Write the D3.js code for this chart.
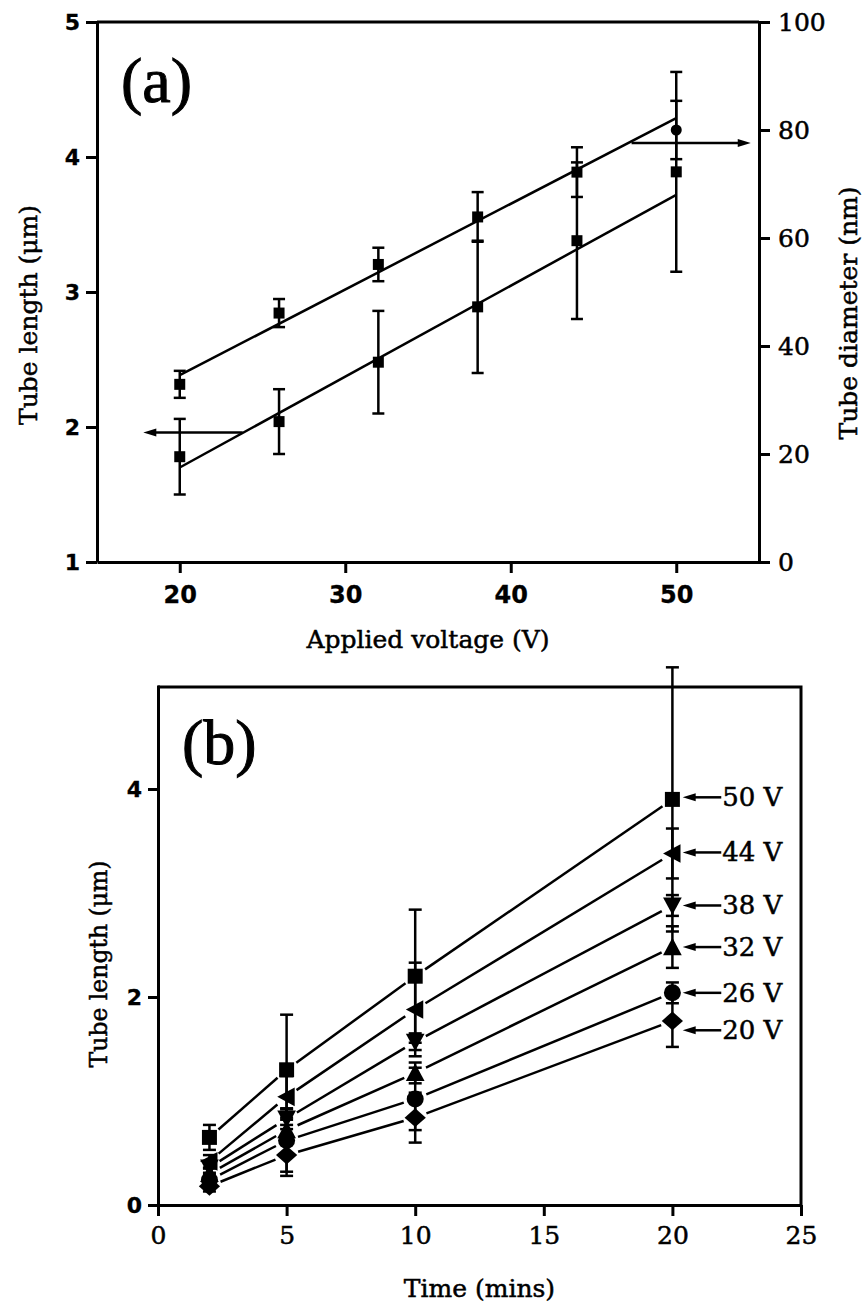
<!DOCTYPE html>
<html>
<head>
<meta charset="utf-8">
<script src="https://cdn.jsdelivr.net/npm/d3@7"></script>
<style>
  body { margin: 0; background: #fff; }
</style>
</head>
<body>
<div id="chart"></div>
<script>
// ---------- data, panel (a) ----------
var voltages = [20, 26, 32, 38, 44, 50];
var tubeLength = [1.78, 2.04, 2.48, 2.89, 3.38, 3.89];
var tubeLengthErr = [0.28, 0.24, 0.38, 0.49, 0.58, 0.74];
var tubeDiameter = [32.9, 46.1, 55.1, 63.9, 72.2, 80.0];
var tubeDiameterErr = [2.5, 2.6, 3.1, 4.6, 4.6, 5.4];
var diameterSymbols = ["square", "square", "square", "square", "square", "circle"];
// fitted lines, value at 20 V and at 50 V
var fitVoltages = [20, 50];
var lengthFit = [1.70, 3.72];
var diameterFit = [34.6, 82.2];
// axis pointers: [from V, to V, level]
var lengthPointer = [23.8, 17.8, 1.96];
var diameterPointer = [47.3, 54.5, 77.6];

// ---------- data, panel (b) ----------
var times = [2, 5, 10, 20];
var seriesNames = ["50 V", "44 V", "38 V", "32 V", "26 V", "20 V"];
var seriesSymbols = ["square", "triangleLeft", "triangleDown", "triangleUp", "circle", "diamond"];
var length50V = [0.65, 1.30, 2.20, 3.90];
var length44V = [0.42, 1.04, 1.88, 3.38];
var length38V = [0.36, 0.83, 1.57, 2.88];
var length32V = [0.30, 0.72, 1.27, 2.48];
var length26V = [0.24, 0.62, 1.02, 2.04];
var length20V = [0.18, 0.48, 0.84, 1.77];
var err50V = [0.12, 0.53, 0.64, 1.27];
var err44V = [0.06, 0.20, 0.45, 0.24];
var err38V = [0.05, 0.10, 0.08, 0.10];
var err32V = [0.05, 0.10, 0.10, 0.20];
var err26V = [0.05, 0.30, 0.30, 0.10];
var err20V = [0.05, 0.20, 0.24, 0.25];
// level of each series' label pointer
var labelLevels = [3.92, 3.39, 2.88, 2.48, 2.04, 1.68];
var labelPointer = [21.9, 20.4]; // from / to, in minutes

var lengthsB = [length50V, length44V, length38V, length32V, length26V, length20V];
var errorsB = [err50V, err44V, err38V, err32V, err26V, err20V];

// ---------- setup ----------
var svgWidth = 864;
var svgHeight = 1308;
var serif = "'DejaVu Serif', serif";
var sans = "'DejaVu Sans', sans-serif";

var svg = d3.select("#chart")
  .append("svg")
  .attr("width", svgWidth)
  .attr("height", svgHeight)
  .style("background", "#fff");

// marker shapes
function markerPath(type, r) {
  switch (type) {
    case "square":
      return `M${-r},${-r}H${r}V${r}H${-r}Z`;
    case "circle":
      return d3.symbol(d3.symbolCircle, Math.PI * r * r)();
    case "triangleUp":
      return `M0,${-r * 1.1}L${r * 1.1},${r * 0.95}L${-r * 1.1},${r * 0.95}Z`;
    case "triangleDown":
      return `M0,${r * 1.1}L${r * 1.1},${-r * 0.95}L${-r * 1.1},${-r * 0.95}Z`;
    case "triangleLeft":
      return `M${-r * 1.1},0L${r * 0.95},${-r * 1.1}L${r * 0.95},${r * 1.1}Z`;
    case "diamond":
      return `M0,${-r * 1.1}L${r * 1.25},0L0,${r * 1.1}L${-r * 1.25},0Z`;
  }
}

function errorBar(g, x, y0, y1, cap) {
  g.append("line").attr("x1", x).attr("x2", x).attr("y1", y0).attr("y2", y1);
  g.append("line").attr("x1", x - cap / 2).attr("x2", x + cap / 2).attr("y1", y0).attr("y2", y0);
  g.append("line").attr("x1", x - cap / 2).attr("x2", x + cap / 2).attr("y1", y1).attr("y2", y1);
}

// horizontal pointer with a small filled head at x2
function pointer(g, x1, x2, y) {
  var dir = x2 > x1 ? 1 : -1;
  g.append("line")
    .attr("x1", x1).attr("x2", x2 - dir * 8).attr("y1", y).attr("y2", y)
    .attr("stroke", "#000").attr("stroke-width", 2.5);
  g.append("path")
    .attr("d", `M${x2},${y}L${x2 - dir * 13},${y - 4}L${x2 - dir * 13},${y + 4}Z`)
    .attr("fill", "#000");
}

function styleAxis(axisG, font, size, weight) {
  axisG.select(".domain").attr("stroke-width", 3);
  axisG.selectAll(".tick line").attr("stroke-width", 3);
  axisG.selectAll(".tick text")
    .style("font-family", font)
    .style("font-size", size + "px")
    .style("font-weight", weight)
    .attr("fill", "#000")
    .attr("stroke", "#000")
    .attr("stroke-width", weight == "bold" ? 0.3 : 0.5);
}

// serif text, thickened a little like the scanned original
function serifText(g, size) {
  return g.append("text")
    .style("font-family", serif)
    .style("font-size", size + "px")
    .attr("fill", "#000")
    .attr("stroke", "#000")
    .attr("stroke-width", 0.5);
}

// =================== panel (a) ===================
var xA = d3.scaleLinear().domain([15, 55]).range([97, 759]);
var yLen = d3.scaleLinear().domain([1, 5]).range([562, 22]);
var yDia = d3.scaleLinear().domain([0, 100]).range([562, 22]);

var gA = svg.append("g");

// top border
gA.append("line")
  .attr("x1", xA.range()[0]).attr("x2", xA.range()[1])
  .attr("y1", yLen.range()[1]).attr("y2", yLen.range()[1])
  .attr("stroke", "#000").attr("stroke-width", 3);

var leftA = gA.append("g")
  .attr("transform", `translate(${xA.range()[0]},0)`)
  .call(d3.axisLeft(yLen).tickValues([1, 2, 3, 4, 5]).tickFormat(d3.format("d"))
    .tickSize(11).tickSizeOuter(0).tickPadding(6));
styleAxis(leftA, sans, 22, "bold");

var rightA = gA.append("g")
  .attr("transform", `translate(${xA.range()[1]},0)`)
  .call(d3.axisRight(yDia).tickValues([0, 20, 40, 60, 80, 100])
    .tickSize(11).tickSizeOuter(0).tickPadding(8));
styleAxis(rightA, serif, 25, "normal");

var bottomA = gA.append("g")
  .attr("transform", `translate(0,${yLen.range()[0]})`)
  .call(d3.axisBottom(xA).tickValues([20, 30, 40, 50])
    .tickSize(11).tickSizeOuter(0).tickPadding(13));
styleAxis(bottomA, sans, 24, "bold");

// error bars
var errA = gA.append("g").attr("stroke", "#000").attr("stroke-width", 2.5);
voltages.forEach(function(v, i) {
  errorBar(errA, xA(v), yLen(tubeLength[i] + tubeLengthErr[i]), yLen(tubeLength[i] - tubeLengthErr[i]), 12);
  errorBar(errA, xA(v), yDia(tubeDiameter[i] + tubeDiameterErr[i]), yDia(tubeDiameter[i] - tubeDiameterErr[i]), 12);
});

// fitted lines
var lenLine = d3.line().x((d, i) => xA(fitVoltages[i])).y(d => yLen(d));
var diaLine = d3.line().x((d, i) => xA(fitVoltages[i])).y(d => yDia(d));
gA.append("path").attr("d", lenLine(lengthFit))
  .attr("fill", "none").attr("stroke", "#000").attr("stroke-width", 2.5);
gA.append("path").attr("d", diaLine(diameterFit))
  .attr("fill", "none").attr("stroke", "#000").attr("stroke-width", 2.5);

// markers
gA.selectAll("path.lenMark")
  .data(tubeLength)
  .enter()
  .append("path")
  .attr("class", "lenMark")
  .attr("d", markerPath("square", 5.5))
  .attr("transform", (d, i) => `translate(${xA(voltages[i])},${yLen(d)})`)
  .attr("fill", "#000");

gA.selectAll("path.diaMark")
  .data(tubeDiameter)
  .enter()
  .append("path")
  .attr("class", "diaMark")
  .attr("d", (d, i) => markerPath(diameterSymbols[i], 5.5))
  .attr("transform", (d, i) => `translate(${xA(voltages[i])},${yDia(d)})`)
  .attr("fill", "#000");

// pointers to the axes
pointer(gA, xA(lengthPointer[0]), xA(lengthPointer[1]), yLen(lengthPointer[2]));
pointer(gA, xA(diameterPointer[0]), xA(diameterPointer[1]), yDia(diameterPointer[2]));

// labels
gA.append("text")
  .attr("x", 121).attr("y", 102)
  .style("font-family", "'Liberation Serif', serif")
  .style("font-size", "64px")
  .attr("stroke", "#000").attr("stroke-width", 1)
  .text("(a)");

serifText(gA, 25)
  .attr("transform", "translate(37,315) rotate(-90)")
  .attr("text-anchor", "middle")
  .text("Tube length (\u03bcm)");

serifText(gA, 25)
  .attr("transform", "translate(857,313) rotate(-90)")
  .attr("text-anchor", "middle")
  .text("Tube diameter (nm)");

serifText(gA, 25)
  .attr("x", (xA.range()[0] + xA.range()[1]) / 2).attr("y", 648)
  .attr("text-anchor", "middle")
  .text("Applied voltage (V)");

// =================== panel (b) ===================
var xB = d3.scaleLinear().domain([0, 25]).range([158, 801]);
var yB = d3.scaleLinear().domain([0, 5]).range([1205, 685]);

var gB = svg.append("g");

// top and right border
gB.append("path")
  .attr("d", `M${xB.range()[0]},${yB(5) + 2}H${xB.range()[1]}V${yB.range()[0]}`)
  .attr("fill", "none").attr("stroke", "#000").attr("stroke-width", 3);

var leftB = gB.append("g")
  .attr("transform", `translate(${xB.range()[0]},0)`)
  .call(d3.axisLeft(yB).tickValues([0, 2, 4]).tickFormat(d3.format("d"))
    .tickSize(10).tickSizeOuter(0).tickPadding(6));
styleAxis(leftB, sans, 22, "bold");

var bottomB = gB.append("g")
  .attr("transform", `translate(0,${yB.range()[0]})`)
  .call(d3.axisBottom(xB).tickValues([0, 5, 10, 15, 20, 25])
    .tickSize(11).tickSizeOuter(0).tickPadding(10));
styleAxis(bottomB, serif, 25, "normal");

// error bars
var errB = gB.append("g").attr("stroke", "#000").attr("stroke-width", 2.5);
lengthsB.forEach(function(vals, s) {
  vals.forEach(function(v, i) {
    errorBar(errB, xB(times[i]), yB(v + errorsB[s][i]), yB(v - errorsB[s][i]), 13);
  });
});

// connecting lines, with a gap around each marker
var gap = 12;
lengthsB.forEach(function(vals) {
  var pts = vals.map((v, i) => [xB(times[i]), yB(v)]);
  for (var i = 0; i < pts.length - 1; i++) {
    var a = pts[i], b = pts[i + 1];
    var dx = b[0] - a[0], dy = b[1] - a[1], len = Math.hypot(dx, dy);
    gB.append("line")
      .attr("x1", a[0] + dx / len * gap).attr("y1", a[1] + dy / len * gap)
      .attr("x2", b[0] - dx / len * gap).attr("y2", b[1] - dy / len * gap)
      .attr("stroke", "#000").attr("stroke-width", 2.5);
  }
});

// markers
lengthsB.forEach(function(vals, s) {
  gB.selectAll(null)
    .data(vals)
    .enter()
    .append("path")
    .attr("d", markerPath(seriesSymbols[s], seriesSymbols[s] == "square" ? 7.5 : 8.5))
    .attr("transform", (d, i) => `translate(${xB(times[i])},${yB(d)})`)
    .attr("fill", "#000");
});

// series labels with pointers
seriesNames.forEach(function(name, s) {
  var y = yB(labelLevels[s]);
  pointer(gB, xB(labelPointer[0]), xB(labelPointer[1]), y);
  serifText(gB, 26)
    .attr("x", xB(labelPointer[0]) + 1).attr("y", y + 9)
    .text(name);
});

gB.append("text")
  .attr("x", 182).attr("y", 764)
  .style("font-family", "'Liberation Serif', serif")
  .style("font-size", "64px")
  .attr("stroke", "#000").attr("stroke-width", 1)
  .text("(b)");

serifText(gB, 23.5)
  .attr("transform", "translate(107,964) rotate(-90)")
  .attr("text-anchor", "middle")
  .text("Tube length (\u03bcm)");

serifText(gB, 25)
  .attr("x", (xB.range()[0] + xB.range()[1]) / 2).attr("y", 1297)
  .attr("text-anchor", "middle")
  .text("Time (mins)");
</script>
</body>
</html>
